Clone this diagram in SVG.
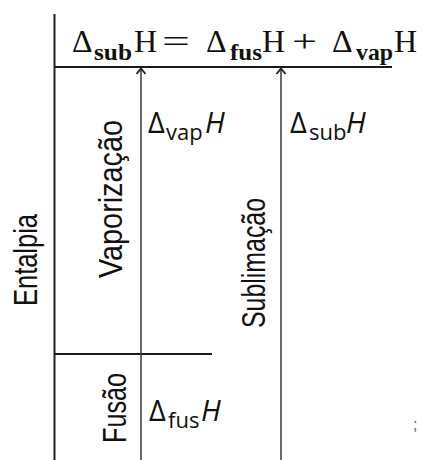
<svg xmlns="http://www.w3.org/2000/svg" width="422" height="460" viewBox="0 0 422 460">
  <defs>
    <style>
      .axis { stroke: #222; stroke-width: 2; fill: none; }
      .level { stroke: #1a1a1a; stroke-width: 2; fill: none; }
      .arrow { stroke: #444; stroke-width: 1.6; fill: none; }
      .head { stroke: #222; stroke-width: 1.8; fill: none; stroke-linejoin: miter; }
      .eq { font-family: "Liberation Serif", "DejaVu Serif", serif; font-size: 32px; fill: #111; }
      .eqsub { font-family: "Liberation Serif", "DejaVu Serif", serif; font-size: 23px; font-weight: bold; fill: #111; }
      .proc { font-family: "Liberation Sans", Arial, sans-serif; font-size: 33px; fill: #111; }
      .dh { font-family: "Open Sans", "Liberation Sans", sans-serif; font-size: 29px; fill: #111; }
      .dhsub { font-family: "Open Sans", "Liberation Sans", sans-serif; font-size: 22px; fill: #111; }
      .dhH { font-family: "Open Sans", "Liberation Sans", sans-serif; font-size: 29px; font-style: italic; fill: #111; }
    </style>
  </defs>

  <rect width="422" height="460" fill="#fff"/>

  <!-- enthalpy axis and energy levels -->
  <g id="axis">
    <line class="axis" x1="54.5" y1="14" x2="54.5" y2="460"/>
    <text class="proc" transform="translate(37,306) rotate(-90)" textLength="92" lengthAdjust="spacingAndGlyphs">Entalpia</text>
  </g>
  <g id="level-gas">
    <line class="level" x1="54" y1="67" x2="392" y2="67"/>
  </g>
  <g id="level-liquid">
    <line class="level" x1="54" y1="354" x2="212" y2="354"/>
  </g>

  <!-- relation between the enthalpy changes -->
  <g id="equation">
    <text class="eq" x="72" y="52">Δ</text>
    <text class="eqsub" x="94" y="60" textLength="38" lengthAdjust="spacingAndGlyphs">sub</text>
    <text class="eq" x="134" y="52">H</text>
    <text class="eq" x="162" y="52" textLength="28" lengthAdjust="spacingAndGlyphs">=</text>
    <text class="eq" x="206" y="52">Δ</text>
    <text class="eqsub" x="230" y="60" textLength="32" lengthAdjust="spacingAndGlyphs">fus</text>
    <text class="eq" x="262" y="52">H</text>
    <text class="eq" x="292" y="52" textLength="25" lengthAdjust="spacingAndGlyphs">+</text>
    <text class="eq" x="332" y="52">Δ</text>
    <text class="eqsub" x="356" y="60" textLength="37" lengthAdjust="spacingAndGlyphs">vap</text>
    <text class="eq" x="394" y="52">H</text>
  </g>

  <!-- transition arrows -->
  <g id="connectors">
    <line class="arrow" x1="141" y1="460" x2="141" y2="69"/>
    <path class="head" d="M136.5,74 L141,68.5 L145.5,74"/>
    <line class="arrow" x1="281" y1="460" x2="281" y2="69"/>
    <path class="head" d="M276.5,74 L281,68.5 L285.5,74"/>
  </g>

  <g id="vaporizacao">
    <text class="proc" transform="translate(122,278) rotate(-90)" textLength="158" lengthAdjust="spacingAndGlyphs">Vaporização</text>
    <text class="dh" x="148" y="133">Δ</text>
    <text class="dhsub" x="166" y="140">vap</text>
    <text class="dhH" x="205" y="133">H</text>
  </g>

  <g id="sublimacao">
    <text class="proc" transform="translate(265,328) rotate(-90)" textLength="130" lengthAdjust="spacingAndGlyphs">Sublimação</text>
    <text class="dh" x="290" y="133">Δ</text>
    <text class="dhsub" x="309" y="140">sub</text>
    <text class="dhH" x="346" y="133">H</text>
  </g>

  <g id="fusao">
    <text class="proc" transform="translate(126,443) rotate(-90)" textLength="70" lengthAdjust="spacingAndGlyphs">Fusão</text>
    <text class="dh" x="149" y="421">Δ</text>
    <text class="dhsub" x="168" y="428">fus</text>
    <text class="dhH" x="201" y="421">H</text>
  </g>

  <text x="413" y="430" font-family="Liberation Sans, sans-serif" font-size="16" fill="#666">;</text>
</svg>
